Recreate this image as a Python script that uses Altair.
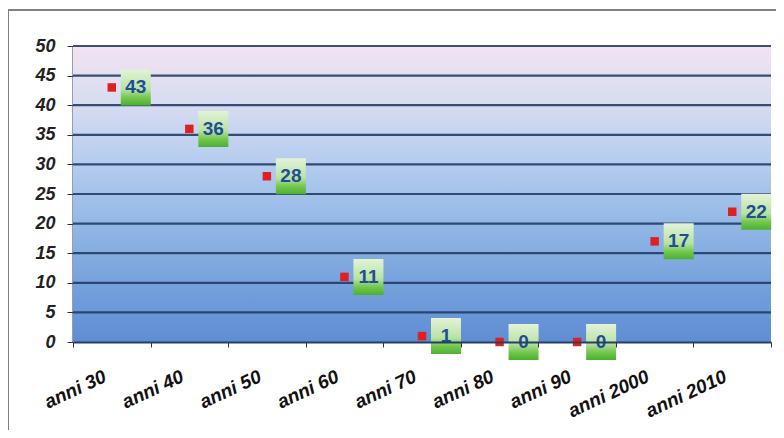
import altair as alt
import pandas as pd

categories = ["anni 30", "anni 40", "anni 50", "anni 60", "anni 70",
              "anni 80", "anni 90", "anni 2000", "anni 2010"]
values = [43, 36, 28, 11, 1, 0, 0, 17, 22]
grid_values = [5, 10, 15, 20, 25, 30, 35, 40, 45, 50]
y_ticks = [0, 5, 10, 15, 20, 25, 30, 35, 40, 45, 50]

df = pd.DataFrame({"cat": categories, "val": values})
gdf = pd.DataFrame({"g": grid_values})

W, H = 698, 296

xenc = alt.X("cat:N", sort=categories, title=None,
             scale=alt.Scale(paddingInner=0, paddingOuter=0),
             axis=alt.Axis(labelAngle=-25, labelAlign="right", labelBaseline="top",
                           labelFont="Liberation Sans", labelFontSize=19,
                           labelFontWeight="bold", labelFontStyle="italic",
                           labelColor="#111111", labelPadding=20, labelOffset=-11,
                           tickBand="extent", tickSize=5, tickColor="#333333",
                           domainColor="#2a3f60", domainWidth=2))
yscale = alt.Scale(domain=[0, 50], nice=False)
yaxis = alt.Axis(values=y_ticks, grid=False, labelFont="Liberation Sans", labelFontSize=18,
                 labelFontWeight="bold", labelFontStyle="italic", labelColor="#222222",
                 labelPadding=12, tickSize=6, tickColor="#333333",
                 domainColor="#2a3f60", domainWidth=2)

bg_grad = alt.Gradient(gradient="linear", x1=0, x2=0, y1=0, y2=1, stops=[
    alt.GradientStop(offset=0, color="#f2e3f1"),
    alt.GradientStop(offset=0.2, color="#d6dcf1"),
    alt.GradientStop(offset=0.4, color="#b4ccee"),
    alt.GradientStop(offset=0.6, color="#93b8e6"),
    alt.GradientStop(offset=0.8, color="#76a2dc"),
    alt.GradientStop(offset=1, color="#5f8dd3"),
])

box_grad = alt.Gradient(gradient="linear", x1=0, x2=0, y1=0, y2=1, stops=[
    alt.GradientStop(offset=0, color="#e3f3d8"),
    alt.GradientStop(offset=0.55, color="#b8e2a4"),
    alt.GradientStop(offset=0.78, color="#74c850"),
    alt.GradientStop(offset=1, color="#4caf30"),
])

base = alt.Chart(df)

bg = base.mark_rect(color=bg_grad).encode(
    x=alt.value(0), x2=alt.value(W), y=alt.value(0), y2=alt.value(H))

grid = alt.Chart(gdf).mark_rule(color="#223d68", strokeWidth=2.2, opacity=0.9).encode(
    y=alt.Y("g:Q", scale=yscale, axis=yaxis, title=None))

boxes = base.mark_rect(color=box_grad, width=30, height=36, xOffset=24).encode(
    x=xenc, y=alt.Y("val:Q", scale=yscale, axis=yaxis, title=None))

points = base.mark_square(size=72, color="#e02020", opacity=1).encode(
    x=xenc, y=alt.Y("val:Q", scale=yscale, axis=yaxis, title=None))

labels = base.mark_text(font="Liberation Sans", fontSize=19, fontWeight="bold",
                        color="#1f4e96", dx=24, dy=0, baseline="middle").encode(
    x=xenc, y=alt.Y("val:Q", scale=yscale, axis=yaxis, title=None), text="val:Q")

frame_top = base.mark_rule(color="#808080", strokeWidth=1).encode(
    x=alt.value(-65), x2=alt.value(W + 10), y=alt.value(-36))
frame_left = base.mark_rule(color="#808080", strokeWidth=1).encode(
    x=alt.value(-64.5), y=alt.value(-36), y2=alt.value(H + 100))

chart = alt.layer(bg, grid, boxes, points, labels, frame_top, frame_left).properties(
    width=W, height=H,
    autosize=alt.AutoSizeParams(type="none"),
    padding={"left": 65, "top": 38, "right": 5, "bottom": 88},
    background="white",
).configure_view(stroke=None)

chart.save("out.html", embed_options={"renderer": "svg", "actions": False})
